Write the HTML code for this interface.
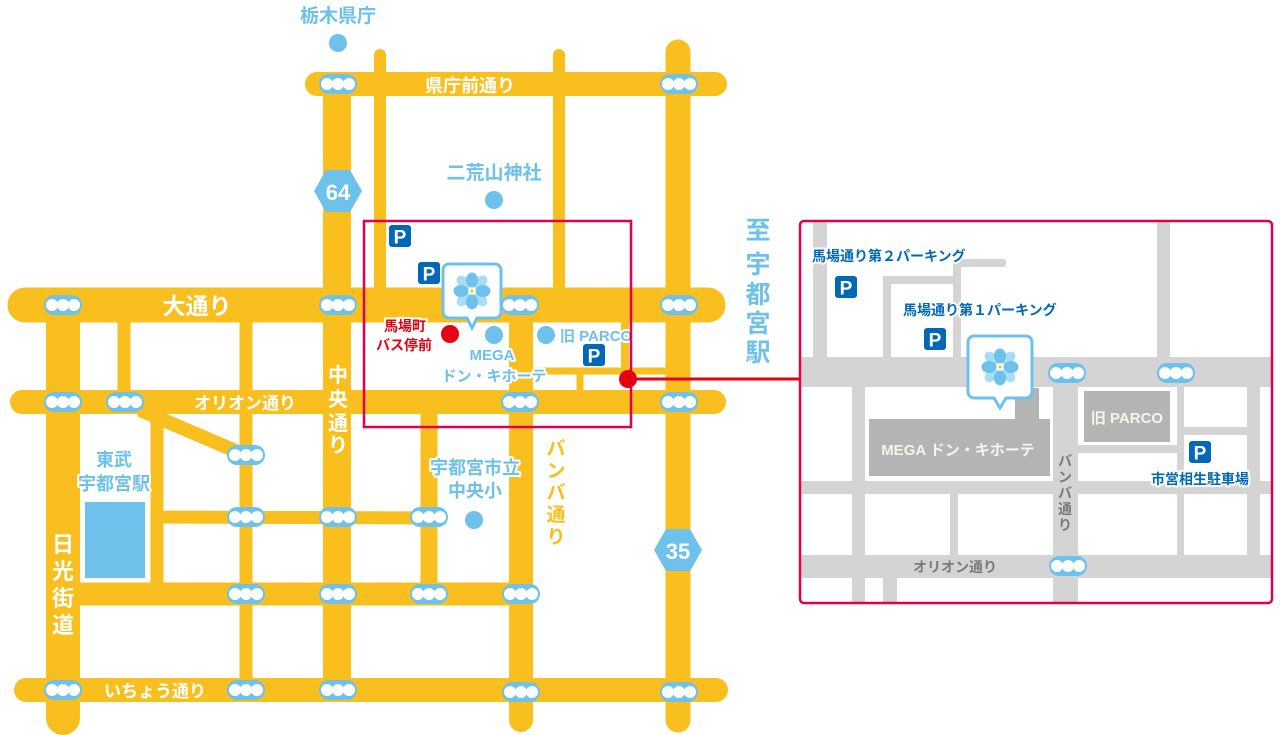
<!DOCTYPE html>
<html><head><meta charset="utf-8"><style>
html,body{margin:0;padding:0;background:#fff;}
svg{display:block;}
text{font-family:"Liberation Sans","Noto Sans CJK JP",sans-serif;font-weight:bold;}
.w{fill:#fff;}
.lb{fill:#6ec1ea;paint-order:stroke;stroke:#fff;stroke-width:4px;stroke-linejoin:round;}
.db{fill:#0068b7;paint-order:stroke;stroke:#fff;stroke-width:4px;stroke-linejoin:round;}
</style></head><body>
<svg width="1280" height="735" viewBox="0 0 1280 735" xmlns="http://www.w3.org/2000/svg">
<defs>
<g id="tl"><rect x="-19" y="-10" width="38" height="20" rx="10" fill="#6ec1ea"/><circle cx="-11" cy="0" r="6" fill="#fff"/><circle cx="0" cy="0" r="6" fill="#fff"/><circle cx="11" cy="0" r="6" fill="#fff"/></g>
<g id="pk"><rect x="-11" y="-11" width="22" height="22" rx="3" fill="#0068b7"/><text x="0" y="7.5" text-anchor="middle" font-size="19" fill="#fff">P</text></g>
<g id="fl">
<g fill="#a9dcf5"><ellipse cx="0" cy="-12" rx="5.5" ry="8" transform="rotate(45)"/><ellipse cx="0" cy="-12" rx="5.5" ry="8" transform="rotate(135)"/><ellipse cx="0" cy="-12" rx="5.5" ry="8" transform="rotate(225)"/><ellipse cx="0" cy="-12" rx="5.5" ry="8" transform="rotate(315)"/></g>
<g fill="#6ec1ea"><ellipse cx="0" cy="-11" rx="6" ry="7.5"/><ellipse cx="0" cy="-11" rx="6" ry="7.5" transform="rotate(90)"/><ellipse cx="0" cy="-11" rx="6" ry="7.5" transform="rotate(180)"/><ellipse cx="0" cy="-11" rx="6" ry="7.5" transform="rotate(270)"/></g>
<circle r="3" fill="#fff"/><circle r="1.6" fill="#f5c518"/>
</g>
</defs>

<g stroke="#f8bf1e" stroke-linecap="round" fill="none">
<line x1="380" y1="55" x2="380" y2="305" stroke-width="12"/>
<line x1="559" y1="55" x2="559" y2="305" stroke-width="12"/>
<line x1="124" y1="305" x2="124" y2="402" stroke-width="13"/>
<line x1="246" y1="305" x2="246" y2="690" stroke-width="13" stroke-linecap="butt"/>
<line x1="157" y1="402" x2="157" y2="594" stroke-width="13" stroke-linecap="butt"/>
<line x1="140" y1="410" x2="245" y2="455" stroke-width="14" stroke-linecap="butt"/>
<line x1="157" y1="517" x2="445" y2="518" stroke-width="13" stroke-linecap="butt"/>
<line x1="429" y1="402" x2="429" y2="594" stroke-width="17" stroke-linecap="butt"/>
<line x1="63" y1="594" x2="530" y2="594" stroke-width="23" stroke-linecap="butt"/>
<line x1="530" y1="371" x2="679" y2="371" stroke-width="7" stroke-linecap="butt"/>
<line x1="580" y1="371" x2="580" y2="402" stroke-width="7" stroke-linecap="butt"/>
<line x1="625" y1="305" x2="625" y2="371" stroke-width="8" stroke-linecap="butt"/>
<line x1="317" y1="84" x2="715" y2="84" stroke-width="24"/>
<line x1="337" y1="84" x2="337" y2="690" stroke-width="28" stroke-linecap="butt"/>
<line x1="521" y1="305" x2="521" y2="720" stroke-width="24"/>
<line x1="678" y1="52" x2="678" y2="720" stroke-width="25"/>
<line x1="63" y1="305" x2="63" y2="718" stroke-width="34"/>
<line x1="25" y1="305" x2="708" y2="305" stroke-width="35"/>
<line x1="22" y1="402" x2="714" y2="402" stroke-width="24"/>
<line x1="26" y1="690" x2="716" y2="690" stroke-width="24"/>
</g>
<rect x="82" y="498" width="68" height="84" fill="#fff"/>
<rect x="85" y="502" width="60" height="76" fill="#6ec1ea"/>

<use href="#tl" x="338" y="84"/><use href="#tl" x="679" y="84"/>
<use href="#tl" x="63" y="305"/><use href="#tl" x="338" y="305"/><use href="#tl" x="520" y="305"/><use href="#tl" x="679" y="305"/>
<use href="#tl" x="63" y="402"/><use href="#tl" x="125" y="402"/><use href="#tl" x="520" y="402"/><use href="#tl" x="679" y="402"/>
<use href="#tl" x="246" y="455"/>
<use href="#tl" x="246" y="517"/><use href="#tl" x="338" y="517"/><use href="#tl" x="429" y="517"/>
<use href="#tl" x="246" y="594"/><use href="#tl" x="338" y="594"/><use href="#tl" x="429" y="594"/><use href="#tl" x="521" y="594"/>
<use href="#tl" x="63" y="690"/><use href="#tl" x="246" y="690"/><use href="#tl" x="338" y="690"/><use href="#tl" x="521" y="692"/><use href="#tl" x="679" y="692"/>

<polygon points="314,191 326,170 350,170 362,191 350,212 326,212" fill="#6ec1ea"/>
<text x="338" y="200" text-anchor="middle" font-size="22" class="w">64</text>
<polygon points="654,550 666,529 690,529 702,550 690,571 666,571" fill="#6ec1ea"/>
<text x="678" y="559" text-anchor="middle" font-size="22" class="w">35</text>

<text x="470" y="92" text-anchor="middle" font-size="18" class="w">県庁前通り</text>
<text x="197" y="314" text-anchor="middle" font-size="23" class="w">大通り</text>
<text x="245" y="409" text-anchor="middle" font-size="17" class="w">オリオン通り</text>
<text x="155" y="697" text-anchor="middle" font-size="17" class="w">いちょう通り</text>
<g font-size="20" class="w" text-anchor="middle"><text x="338" y="382">中</text><text x="338" y="406">央</text><text x="338" y="430">通</text><text x="338" y="452">り</text></g>
<g font-size="22" class="w" text-anchor="middle"><text x="63" y="552">日</text><text x="63" y="579">光</text><text x="63" y="606">街</text><text x="63" y="633">道</text></g>
<g font-size="19" text-anchor="middle" fill="#f8bf1e" style="paint-order:stroke;stroke:#fff;stroke-width:4px"><text x="556" y="455">バ</text><text x="556" y="477">ン</text><text x="556" y="499">バ</text><text x="556" y="521">通</text><text x="556" y="543">り</text></g>

<text x="338" y="22" text-anchor="middle" font-size="19" class="lb">栃木県庁</text>
<circle cx="338" cy="43" r="9" fill="#6ec1ea"/>
<text x="494" y="179" text-anchor="middle" font-size="19" class="lb">二荒山神社</text>
<circle cx="494" cy="200" r="9" fill="#6ec1ea"/>
<text x="475" y="474" text-anchor="middle" font-size="18" class="lb">宇都宮市立</text>
<text x="475" y="497" text-anchor="middle" font-size="18" class="lb">中央小</text>
<circle cx="474" cy="520" r="9" fill="#6ec1ea"/>
<text x="114" y="466" text-anchor="middle" font-size="18" class="lb">東武</text>
<text x="114" y="490" text-anchor="middle" font-size="18" class="lb">宇都宮駅</text>
<circle cx="494" cy="335" r="9" fill="#6ec1ea"/>
<text x="492" y="360" text-anchor="middle" font-size="15" class="lb">MEGA</text>
<text x="494" y="381" text-anchor="middle" font-size="15" class="lb">ドン・キホーテ</text>
<circle cx="546" cy="335" r="9" fill="#6ec1ea"/>
<text x="560" y="341" font-size="15" class="lb">旧 PARCO</text>
<g font-size="25" fill="#6ec1ea" text-anchor="middle"><text x="758" y="239">至</text><text x="758" y="273">宇</text><text x="758" y="303">都</text><text x="758" y="332">宮</text><text x="758" y="361">駅</text></g>

<text x="405" y="331" text-anchor="middle" font-size="14" fill="#e60012" style="paint-order:stroke;stroke:#fff;stroke-width:4px">馬場町</text>
<text x="404" y="350" text-anchor="middle" font-size="14" fill="#e60012" style="paint-order:stroke;stroke:#fff;stroke-width:4px">バス停前</text>
<circle cx="450" cy="334" r="9" fill="#e60012"/>
<use href="#pk" x="400" y="236"/><use href="#pk" x="429" y="273"/><use href="#pk" x="594" y="355"/>

<path d="M449 264 h46 a6 6 0 0 1 6 6 v42 a6 6 0 0 1 -6 6 h-18 l-5 10 l-5 -10 h-18 a6 6 0 0 1 -6 -6 v-42 a6 6 0 0 1 6 -6z" fill="#fff" stroke="#6ec1ea" stroke-width="3"/>
<use href="#fl" x="472" y="291"/>

<rect x="364" y="221" width="267" height="206" fill="none" stroke="#e4004f" stroke-width="2.5"/>
<line x1="628" y1="379" x2="800" y2="379" stroke="#e60012" stroke-width="3"/>
<circle cx="628" cy="379" r="9" fill="#e60012"/>

<svg x="800" y="221" width="472" height="382" viewBox="800 221 472 382">
<rect x="800" y="221" width="472" height="382" fill="#fff"/>
<g fill="#d4d4d4">
<rect x="813" y="221" width="14" height="140"/>
<rect x="1157" y="221" width="13" height="140"/>
<rect x="883" y="276" width="8" height="85"/>
<rect x="883" y="276" width="77" height="8"/>
<rect x="953" y="259" width="8" height="100"/>
<rect x="953" y="259" width="53" height="8" rx="3"/>
<rect x="800" y="357" width="472" height="30"/>
<rect x="800" y="481" width="472" height="13"/>
<rect x="800" y="555" width="472" height="23"/>
<rect x="852" y="380" width="13" height="223"/>
<rect x="1053" y="380" width="25" height="223"/>
<rect x="950" y="487" width="8" height="75"/>
<rect x="883" y="570" width="14" height="33"/>
<rect x="1177" y="380" width="7" height="180"/>
<rect x="1247" y="380" width="13" height="180"/>
<rect x="1078" y="445" width="105" height="8"/>
<rect x="1183" y="427" width="70" height="8"/>
</g>
<rect x="869" y="419" width="181" height="57" fill="#b4b4b4"/>
<rect x="1015" y="388" width="24" height="33" fill="#b4b4b4"/>
<text x="958" y="455" text-anchor="middle" font-size="15" fill="#f5f5e6">MEGA ドン・キホーテ</text>
<rect x="1084" y="391" width="86" height="51" fill="#b4b4b4"/>
<text x="1127" y="423" text-anchor="middle" font-size="15" fill="#f5f5e6">旧 PARCO</text>
<use href="#tl" x="1067" y="373"/><use href="#tl" x="1176" y="373"/><use href="#tl" x="1068" y="566"/>
<text x="955" y="572" text-anchor="middle" font-size="14" fill="#7a7a7a">オリオン通り</text>
<g font-size="14" fill="#7a7a7a" text-anchor="middle"><text x="1065" y="466">バ</text><text x="1065" y="482">ン</text><text x="1065" y="498">バ</text><text x="1065" y="514">通</text><text x="1065" y="530">り</text></g>
<text x="812" y="261" font-size="14" class="db">馬場通り第２パーキング</text>
<use href="#pk" x="846" y="287"/>
<text x="903" y="315" font-size="14" class="db">馬場通り第１パーキング</text>
<use href="#pk" x="935" y="339"/>
<use href="#pk" x="1200" y="452"/>
<text x="1200" y="484" text-anchor="middle" font-size="14" class="db">市営相生駐車場</text>
<path d="M974 336 h52 a6 6 0 0 1 6 6 v50 a6 6 0 0 1 -6 6 h-20 l-6 10 l-6 -10 h-20 a6 6 0 0 1 -6 -6 v-50 a6 6 0 0 1 6 -6z" fill="#fff" stroke="#6ec1ea" stroke-width="3"/>
<use href="#fl" x="1000" y="367"/>
</svg>
<rect x="800" y="221" width="472" height="382" rx="4" fill="none" stroke="#e4004f" stroke-width="2.5"/>
</svg>
</body></html>
